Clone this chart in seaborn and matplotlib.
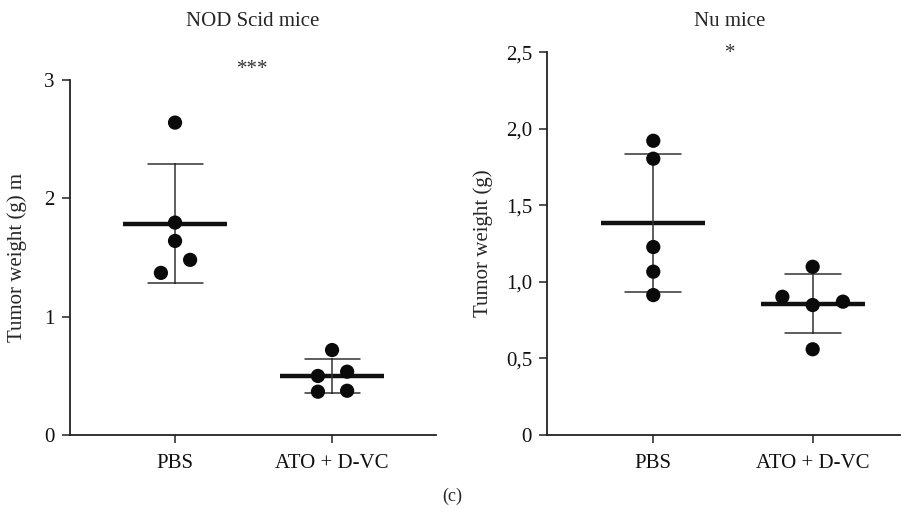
import matplotlib
matplotlib.use("Agg")
import matplotlib.pyplot as plt
import matplotlib.transforms as mtrans
import pandas as pd
import seaborn as sns

# ---- data ----
groups = ["PBS", "ATO + D-VC"]

nod_pbs = [2.64, 1.795, 1.64, 1.48, 1.37]
nod_ato = [0.718, 0.499, 0.535, 0.366, 0.374]
nod_pbs_dx = [0.0, 0.0, 0.0, 0.096, -0.09]
nod_ato_dx = [0.0, -0.09, 0.096, -0.09, 0.096]

nu_pbs = [1.922, 1.805, 1.228, 1.067, 0.914]
nu_ato = [1.099, 0.903, 0.849, 0.871, 0.560]
nu_pbs_dx = [0.0, 0.0, 0.0, 0.0, 0.0]
nu_ato_dx = [0.0, -0.19, 0.0, 0.19, 0.0]

nod_yticks = [0, 1, 2, 3]
nod_yticklabels = ["0", "1", "2", "3"]
nu_yticks = [0, 0.5, 1.0, 1.5, 2.0, 2.5]
nu_yticklabels = ["0", "0,5", "1,0", "1,5", "2,0", "2,5"]

titles = ["NOD Scid mice", "Nu mice"]
signif = ["***", "*"]
ylabels = ["Tumor weight (g) m", "Tumor weight (g)"]


def make_df(pbs, ato, pbs_dx, ato_dx):
    rows = []
    for gi, (vals, dxs) in enumerate([(pbs, pbs_dx), (ato, ato_dx)]):
        for v, d in zip(vals, dxs):
            rows.append({"group": groups[gi], "pos": gi, "x": gi + d, "w": v})
    return pd.DataFrame(rows)


sns.set_style("ticks")
plt.rcParams["font.family"] = ["Liberation Serif", "DejaVu Serif"]

fig = plt.figure(figsize=(9.01, 5.08), dpi=100)
W, H = 901, 508


def add_axes(x0, x1, ytop, ybot):
    return fig.add_axes([x0 / W, (H - ybot) / H, (x1 - x0) / W, (ybot - ytop) / H])


ax1 = add_axes(70, 436, 80, 435)
ax2 = add_axes(547.3, 900, 52.3, 435)

specs = [
    (ax1, make_df(nod_pbs, nod_ato, nod_pbs_dx, nod_ato_dx), (0, 3), nod_yticks, nod_yticklabels,
     (-0.669, 1.662), 0.5, -0.1175, 70),
    (ax2, make_df(nu_pbs, nu_ato, nu_pbs_dx, nu_ato_dx), (0, 2.5), nu_yticks, nu_yticklabels,
     (-0.665, 1.548), 0.518, -0.154, 53),
]

for i, (ax, df, ylim, yt, ytl, xlim, tx, ylx, sy) in enumerate(specs):
    sns.pointplot(data=df, x="pos", y="w", native_scale=True, errorbar="sd",
                  capsize=0.35, color="#111111", marker="_", markersize=75,
                  markeredgewidth=3.2, linestyle="none",
                  err_kws={"linewidth": 1.1, "color": "#333333"}, ax=ax)
    sns.scatterplot(data=df, x="x", y="w", s=105, color="#0a0a0a",
                    edgecolor="none", zorder=5, ax=ax, legend=False)
    ax.set_ylim(*ylim)
    ax.set_xlim(*xlim)
    ax.set_yticks(yt, ytl)
    ax.set_xticks(range(len(groups)), groups)
    ax.set_xlabel("")
    ax.set_ylabel(ylabels[i], fontsize=15)
    ax.yaxis.set_label_coords(ylx, 0.5)
    sns.despine(ax=ax)
    for s in ["left", "bottom"]:
        ax.spines[s].set_linewidth(1.3)
        ax.spines[s].set_color("#222222")
    ax.tick_params(axis="both", length=6, width=1.1, color="#222222",
                   labelsize=15, labelcolor="#111111")
    ax.tick_params(axis="y", pad=5)
    ax.tick_params(axis="x", pad=8)
    tr = mtrans.blended_transform_factory(ax.transAxes, fig.transFigure)
    ax.text(tx, (H - 21) / H, titles[i], transform=tr,
            ha="center", va="center", fontsize=15)
    ax.text(tx, (H - sy) / H, signif[i], transform=tr,
            ha="center", va="center", fontsize=15, color="#333333")

fig.text(452 / W, (H - 496) / H, "(c)", ha="center", va="center", fontsize=13)

fig.savefig("out.png", dpi=100)
